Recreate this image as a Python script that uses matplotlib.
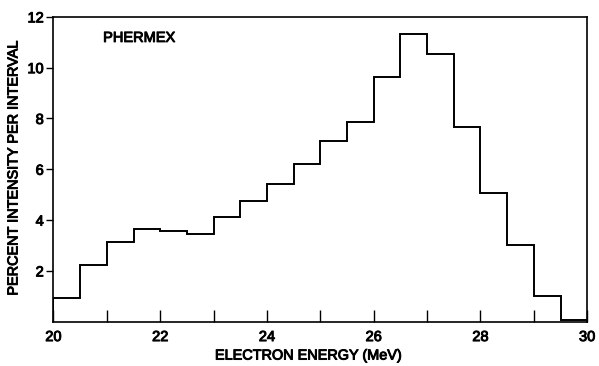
import matplotlib
matplotlib.use("Agg")
import matplotlib.pyplot as plt
import matplotlib.patheffects as pe
from matplotlib.ticker import MultipleLocator

bin_edges = [20.0, 20.5, 21.0, 21.5, 22.0, 22.5, 23.0, 23.5, 24.0, 24.5, 25.0,
             25.5, 26.0, 26.5, 27.0, 27.5, 28.0, 28.5, 29.0, 29.5, 30.0]
intensity = [0.92, 2.23, 3.13, 3.65, 3.56, 3.44, 4.11, 4.75, 5.43, 6.20,
             7.11, 7.87, 9.62, 11.31, 10.54, 7.65, 5.05, 3.02, 1.01, 0.07]
x_tick_labels = ["20", "22", "24", "26", "28", "30"]
y_tick_labels = ["2", "4", "6", "8", "10", "12"]

plt.rcParams['font.family'] = ['Liberation Sans', 'DejaVu Sans']

fig = plt.figure(figsize=(5.99, 3.66), dpi=100)
ax = fig.add_axes([0.0893, 0.121, 0.891, 0.833])

ax.stairs(intensity, bin_edges, color='black', linewidth=1.4)

ax.set_xlim(20, 30)
ax.set_ylim(0, 12)
ax.set_xticks([20, 22, 24, 26, 28, 30])
ax.set_xticklabels(x_tick_labels)
ax.xaxis.set_minor_locator(MultipleLocator(1))
ax.set_yticks([2, 4, 6, 8, 10, 12])
ax.set_yticklabels(y_tick_labels)

ax.tick_params(axis='x', which='both', direction='in', length=9, width=1.0,
               labelsize=10.5, pad=6)
ax.tick_params(axis='y', which='both', direction='out', length=5, width=1.0,
               labelsize=10.5, pad=2)

thick = [pe.withStroke(linewidth=0.7, foreground='black')]
for lab in ax.get_xticklabels() + ax.get_yticklabels():
    lab.set_path_effects(thick)

for sp in ax.spines.values():
    sp.set_linewidth(1.2)

ax.set_xlabel("ELECTRON ENERGY (MeV)", fontsize=10.4, path_effects=thick)
ax.xaxis.set_label_coords(0.476, -0.088)
ax.set_ylabel("PERCENT INTENSITY PER INTERVAL", fontsize=10.4, labelpad=5, path_effects=thick)

ax.text(20.93, 11.17, "PHERMEX", fontsize=10.5, va='center', ha='left', path_effects=thick)

fig.savefig("out.png", dpi=100)
